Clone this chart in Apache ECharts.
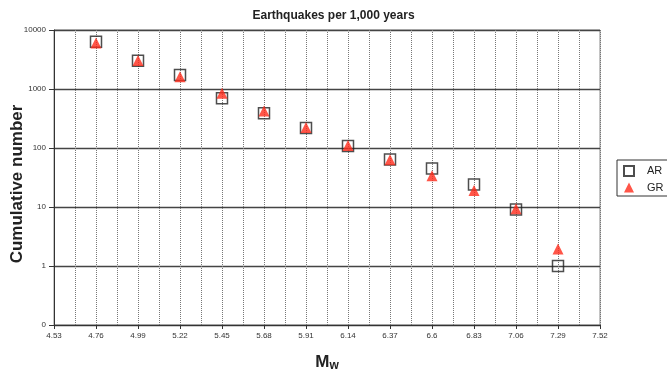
<!DOCTYPE html>
<html><head><meta charset="utf-8">
<script src="https://cdn.jsdelivr.net/npm/echarts@6/dist/echarts.min.js"></script>
<style>html,body{margin:0;padding:0;background:#fff}#c{width:667px;height:374px}</style>
</head><body><div id="c"></div>
<script>
// Data
const X_START = 4.53;
const X_STEP = 0.23;
const X_END = 7.52;
const magnitudes = [4.76, 4.99, 5.22, 5.45, 5.68, 5.91, 6.14, 6.37, 6.6, 6.83, 7.06, 7.29];
const arValues = [6300, 3000, 1730, 700, 390, 218, 108, 64, 45, 24, 9.1, 1];
const grValues = [6000, 3050, 1620, 850, 425, 222, 110, 63, 34, 19, 9.3, 1.95];
const yTickLabels = {'0.1': '0', '1': '1', '10': '10', '100': '100', '1000': '1000', '10000': '10000'};

const toPoints = (vals) => magnitudes.map((m, i) => [+(m - X_START).toFixed(2), vals[i]]);

const chart = echarts.init(document.getElementById('c'), null, {renderer: 'canvas'});
const FONT = '"Liberation Sans", Arial, sans-serif';
chart.setOption({
  backgroundColor: '#fff',
  animation: false,
  textStyle: {fontFamily: FONT},
  title: {
    text: 'Earthquakes per 1,000 years',
    left: 'center', top: 5,
    textStyle: {fontFamily: FONT, fontSize: 12, fontWeight: 'bold', color: '#222'}
  },
  grid: {left: 54, right: 67, top: 30, bottom: 49, show: true, borderColor: '#888', borderWidth: 1,
    containLabel: false, outerBoundsMode: 'none'},
  legend: {
    orient: 'vertical', left: 617, top: 160,
    borderColor: '#333', borderWidth: 1, padding: [5, 6, 3, 6],
    itemWidth: 10, itemHeight: 10, itemGap: 5,
    textStyle: {fontFamily: FONT, fontSize: 11, color: '#222', padding: [0, 0, 0, 8]},
    data: ['AR', 'GR']
  },
  xAxis: {
    type: 'value', min: 0, max: +(X_END - X_START).toFixed(2), interval: X_STEP,
    name: '{m|M}{s|w}', nameLocation: 'middle', nameGap: 27, nameMoveOverlap: false,
    nameTextStyle: {rich: {
      m: {fontFamily: FONT, fontSize: 17, fontWeight: 'bold', color: '#222'},
      s: {fontFamily: FONT, fontSize: 12, fontWeight: 'bold', color: '#222', padding: [8, 0, 0, 0]}
    }},
    axisLine: {show: true, lineStyle: {color: '#333', width: 1}},
    axisTick: {show: true, length: 4, lineStyle: {color: '#333'}},
    axisLabel: {fontFamily: FONT, fontSize: 8, color: '#333', margin: 7,
      formatter: v => String(parseFloat((v + X_START).toFixed(2)))},
    splitLine: {show: true, lineStyle: {color: '#777', type: 'dotted', width: 1}},
    minorTick: {show: false, splitNumber: 2},
    minorSplitLine: {show: true, lineStyle: {color: '#777', type: 'dotted', width: 1}}
  },
  yAxis: {
    type: 'log', logBase: 10, min: 0.1, max: 10000,
    name: 'Cumulative number', nameLocation: 'middle', nameGap: 28, nameRotate: 90, nameMoveOverlap: false,
    nameTextStyle: {fontFamily: FONT, fontSize: 17, fontWeight: 'bold', color: '#222', padding: [0, 13, 0, 0]},
    axisLine: {show: true, lineStyle: {color: '#333', width: 1}},
    axisTick: {show: true, length: 5, lineStyle: {color: '#333'}},
    axisLabel: {fontFamily: FONT, fontSize: 8, color: '#333', margin: 8,
      formatter: v => {const k = String(parseFloat(v.toPrecision(3))); return yTickLabels[k] !== undefined ? yTickLabels[k] : k;}},
    splitLine: {show: true, lineStyle: {color: '#444', width: 1.3}}
  },
  series: [
    {name: 'AR', type: 'scatter', symbol: 'rect', symbolSize: 11, z: 2,
      itemStyle: {color: 'rgba(255,255,255,0)', borderColor: '#222', borderWidth: 1.5},
      data: toPoints(arValues)},
    {name: 'GR', type: 'scatter', symbol: 'triangle', symbolSize: 11, z: 3,
      itemStyle: {color: '#ff2a1a'},
      data: toPoints(grValues)}
  ]
});
</script></body></html>
